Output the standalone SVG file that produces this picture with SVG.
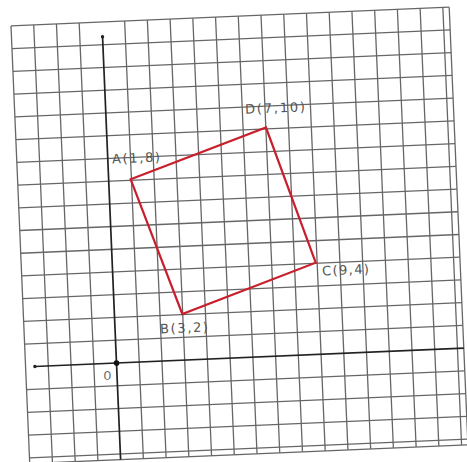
<svg xmlns="http://www.w3.org/2000/svg" width="467" height="462" viewBox="0 0 467 462">
<style>
.grid{fill:none;stroke:#666666;stroke-width:1.3}
.axis{fill:none;stroke:#222222;stroke-width:1.7}
.sq{fill:none;stroke:#c81f2c;stroke-width:2.2;stroke-linejoin:miter}
.lbl{font-family:"DejaVu Sans","Liberation Sans",sans-serif;font-size:13px;fill:#555555}
</style>
<rect width="467" height="462" fill="#ffffff"/>
<g id="grid" transform="translate(116.5 363) rotate(-2.45)">
<path class="grid" d="M-91 -341.25V96.7M-68.25 -341.25V96.7M-45.5 -341.25V96.7M-22.75 -341.25V96.7M22.75 -341.25V96.7M45.5 -341.25V96.7M68.25 -341.25V96.7M91 -341.25V96.7M113.75 -341.25V96.7M136.5 -341.25V96.7M159.25 -341.25V96.7M182 -341.25V96.7M204.75 -341.25V96.7M227.5 -341.25V96.7M250.25 -341.25V96.7M273 -341.25V96.7M295.75 -341.25V96.7M318.5 -341.25V96.7M341.25 -341.25V96.7M347.6 -341.25V96.7"/>
<path class="grid" d="M-91 91H347.6M-91 68.25H347.6M-91 45.5H347.6M-91 22.75H347.6M-91 -22.75H347.6M-91 -45.5H347.6M-91 -68.25H347.6M-91 -91H347.6M-91 -113.75H347.6M-91 -136.5H347.6M-91 -159.25H347.6M-91 -182H347.6M-91 -204.75H347.6M-91 -227.5H347.6M-91 -250.25H347.6M-91 -273H347.6M-91 -295.75H347.6M-91 -318.5H347.6M-91 -341.25H347.6M-91 96.7H347.6"/>
<g id="axes">
<path class="axis" d="M-81.7 0H347.6"/>
<path class="axis" d="M0 -326.5V96.7"/>
<circle cx="-81.7" cy="0" r="1.7" fill="#222222"/>
<circle cx="0" cy="-326.5" r="1.7" fill="#222222"/>
<circle cx="0" cy="0" r="2.8" fill="#111111"/>
</g>
</g>
<g id="connectors">
<polygon id="square" class="sq" points="130.7,179.3 266,127.5 315.7,262.7 182.3,314"/>
</g>
<g id="node-A"><text class="lbl" x="112" y="162.5" textLength="48" lengthAdjust="spacing" transform="rotate(-2.4 136 158)">A(1,8)</text></g>
<g id="node-D"><text class="lbl" x="245" y="112.5" textLength="60" lengthAdjust="spacing" transform="rotate(-2.4 275 108)">D(7,10)</text></g>
<g id="node-C"><text class="lbl" x="322" y="274.5" textLength="47" lengthAdjust="spacing" transform="rotate(-2.4 345 270)">C(9,4)</text></g>
<g id="node-B"><text class="lbl" x="160" y="332.5" textLength="48" lengthAdjust="spacing" transform="rotate(-2.4 184 328)">B(3,2)</text></g>
<g id="origin"><text class="lbl" x="107.3" y="380" text-anchor="middle" style="font-size:13px;fill:#707070">0</text></g>
</svg>
